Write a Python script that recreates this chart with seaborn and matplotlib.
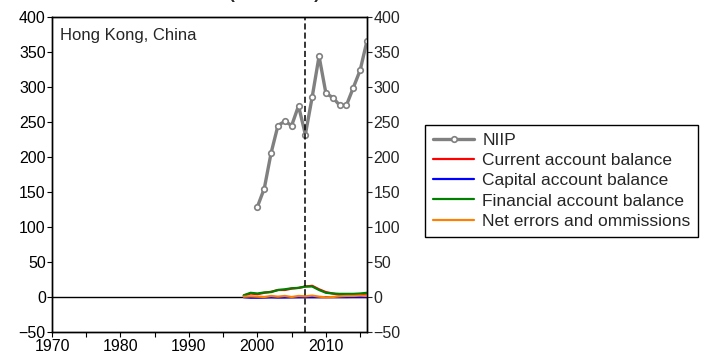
import numpy as np
import pandas as pd
import seaborn as sns
from matplotlib import pyplot as plt
from matplotlib.ticker import MultipleLocator

sns.set_style("ticks")
plt.rcParams["font.family"] = ["Liberation Sans", "DejaVu Sans"]

# NIIP, % of GDP
niip_years = list(range(2000, 2017))
niip = [129, 155, 206, 245, 251, 245, 273, 232, 286, 344, 291, 285, 274, 274, 299, 324, 366]

# Balance of payments components, % of GDP
bop_years = list(range(1998, 2017))
current_account = [2, 5, 4, 6, 7.5, 10, 10, 12, 13, 15, 16, 11, 7, 5, 3, 3, 3, 4, 5]
capital_account = [-0.3, -1, -1, -0.8, -0.5, -0.8, -0.7, -0.5, -0.4, -0.3, -0.3, -0.3,
                   -0.2, -0.2, -0.2, -0.2, -0.1, -0.1, -0.1]
financial_account = [2.5, 6, 5, 6.5, 7, 10, 11, 12.5, 13, 15, 15, 10, 6, 5, 4.5, 4.5, 4.5, 5, 6]
net_errors = [0.5, 1, 0.5, 0, 1.5, 0.5, 1.5, 0, 1.5, 1, 2, 0.5, -0.5, 0, 1, 1.5, 1.5, 2, 1.5]

country = "Hong Kong, China"
crisis_year = 2007

series = [
    ("Current account balance", current_account, "#ff0000"),
    ("Capital account balance", capital_account, "#0000ff"),
    ("Financial account balance", financial_account, "#008000"),
    ("Net errors and ommissions", net_errors, "#ff8000"),
]

fig = plt.figure(figsize=(7.04, 3.63), dpi=100)
ax = fig.add_axes([52 / 704, 31 / 363, 315 / 704, 315 / 363])

ax.axhline(0, color="black", lw=1, zorder=1)

niip_df = pd.DataFrame({"year": niip_years, "value": niip})
sns.lineplot(data=niip_df, x="year", y="value", ax=ax, color="#808080", lw=2.4,
             marker="o", markersize=4, markerfacecolor="white",
             markeredgecolor="#808080", markeredgewidth=1.2, label="NIIP", zorder=4)

for name, values, color in series:
    df = pd.DataFrame({"year": bop_years, "value": values})
    sns.lineplot(data=df, x="year", y="value", ax=ax, color=color, lw=1.6,
                 label=name, zorder=3)

ax.axvline(crisis_year, color="black", ls=(0, (4, 2)), lw=1.1, zorder=5)

ax.set_xlim(1970, 2016)
ax.set_ylim(-50, 400)
ax.xaxis.set_major_locator(MultipleLocator(10))
ax.xaxis.set_minor_locator(MultipleLocator(5))
ax.yaxis.set_major_locator(MultipleLocator(50))
ax.set_xlabel("")
ax.set_ylabel("")
ax.tick_params(axis="both", which="both", direction="out", length=3.5, width=0.8,
               labelsize=11.5, pad=1, colors="black")
ax.tick_params(axis="x", pad=1.5)

ax2 = ax.twinx()
ax2.set_ylim(-50, 400)
ax2.yaxis.set_major_locator(MultipleLocator(50))
ax2.tick_params(axis="y", direction="out", length=3.5, width=0.8, labelsize=11.5, pad=1)

for a in (ax, ax2):
    for sp in a.spines.values():
        sp.set_visible(True)
        sp.set_color("black")
        sp.set_linewidth(1)

ax.text(0.025, 0.965, country, transform=ax.transAxes, ha="left", va="top", fontsize=12)

# chart title sits mostly above the visible area
fig.text(229 / 704, 1 + 0.8 / 363, "(% of GDP)", ha="left", va="baseline",
         fontsize=12.5, fontweight="bold")

h, l = ax.get_legend_handles_labels()
ax.get_legend().remove()
leg = fig.legend(h, l, loc="upper left", bbox_to_anchor=(425 / 704, 1 - 125 / 363),
                 fontsize=12.5, frameon=True, fancybox=False, framealpha=1,
                 edgecolor="black", handlelength=2.4, handletextpad=0.45,
                 labelspacing=0.29, borderpad=0.45, borderaxespad=0)
leg.get_frame().set_linewidth(1)

fig.savefig("out.png", dpi=100)
